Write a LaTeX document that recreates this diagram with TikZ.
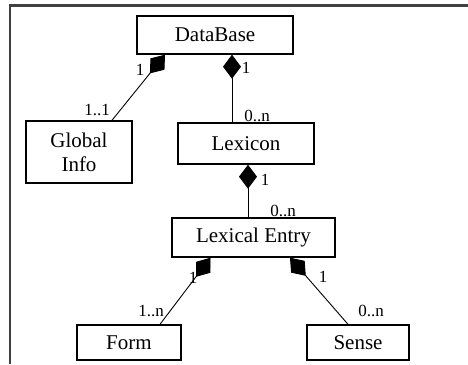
\documentclass[tikz,border=0pt]{standalone}
\usepackage{fontspec}
\setmainfont{Liberation Serif}
\usepackage{tikz}
\usetikzlibrary{positioning, arrows.meta, calc}
\definecolor{frame}{HTML}{404040}

\begin{document}
\begin{tikzpicture}[x=1pt, y=1pt,
        every node/.style={inner sep=2pt},
        cls/.style={rectangle, draw=black, line width=1.4pt, fill=white,
          font=\fontsize{21}{24}\selectfont, align=center},
        comp/.style={{Diamond[length=24pt, width=18pt]}-, line width=0.9pt, color=black},
        mult/.style={font=\fontsize{17}{19}\selectfont, inner sep=0pt}]
      \useasboundingbox (0,0) rectangle (468,-364);
      \draw[frame, line width=2.4pt] (10,-364) -- (10,-5.6) -- (468,-5.6);
      % classes
      \node[cls, minimum width=156, minimum height=38] (db) at (215,-35) {DataBase};
      \node[cls, minimum width=106, minimum height=62] (gi) at (79,-152) {Global\\Info};
      \node[cls, minimum width=136, minimum height=41] (lex) at (246,-143.5) {Lexicon};
      \node[cls, minimum width=163, minimum height=39] (le) at (253.5,-237.5) {Lexical Entry};
      \node[cls, minimum width=104, minimum height=35] (form) at (129,-342.5) {Form};
      \node[cls, minimum width=102, minimum height=35] (sense) at (358,-342.5) {Sense};
      % compositions
      \draw[comp] ($(db.south)+(-50,0)$) -- ($(gi.north)+(33,0)$);
      \draw[comp] ($(db.south)+(17,0)$) coordinate (c1) -- (c1 |- lex.north);
      \draw[comp] ($(lex.south)+(2,0)$) coordinate (c2) -- (c2 |- le.north);
      \draw[comp] ($(le.south)+(-43,0)$) -- ($(form.north)+(31,0)$);
      \draw[comp] ($(le.south)+(36.5,0)$) -- ($(sense.north)+(-10,0)$);
      % multiplicities
      \node[mult] (m1) at (140,-70) {1};
      \node[mult] (m2) at (97,-110) {1..1};
      \node[mult] (m3) at (246,-68) {1};
      \node[mult] (m4) at (257,-116) {0..n};
      \node[mult] (m5) at (265,-180) {1};
      \node[mult] (m6) at (283,-211) {0..n};
      \node[mult] (m7) at (193,-278) {1};
      \node[mult] (m8) at (151,-311) {1..n};
      \node[mult] (m9) at (323,-277) {1};
      \node[mult] (m10) at (371,-311) {0..n};
\end{tikzpicture}
\end{document}
